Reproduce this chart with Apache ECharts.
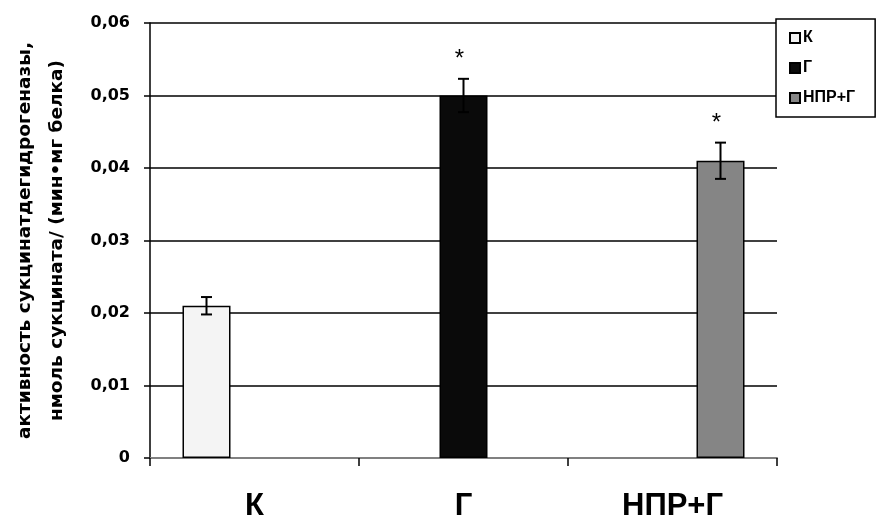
<!DOCTYPE html>
<html>
<head>
<meta charset="utf-8">
<script src="https://cdn.jsdelivr.net/npm/echarts@6/dist/echarts.min.js"></script>
<style>html,body{margin:0;padding:0;background:#fff;}#c{width:886px;height:530px;}</style>
</head>
<body>
<div id="c"></div>
<script>
// ---- data ----
const categories = ['К', 'Г', 'НПР+Г'];
const seriesNames = ['К', 'Г', 'НПР+Г'];
const means = [0.021, 0.050, 0.041];
const errors = [0.0012, 0.0023, 0.0025];
const marks = ['', '*', '*'];
const yMin = 0, yMax = 0.06, yStep = 0.01;
const yTitle = 'активность сукцинатдегидрогеназы,\nнмоль сукцината/ (мин•мг белка)';

// ---- styles ----
const FONT = '"Liberation Sans", Arial, sans-serif';
const FONT_W = '"DejaVu Sans", Verdana, sans-serif';
const fills = ['#f4f4f4', '#0a0a0a', '#858585'];
const borders = ['#000', '#000', '#000'];
const BAR_W = 48;

const chart = echarts.init(document.getElementById('c'), null, {renderer: 'canvas'});

const barSeries = seriesNames.map((name, i) => ({
  name: name,
  type: 'bar',
  barWidth: BAR_W,
  barGap: '0%',
  data: categories.map((c, j) => (j === i ? means[i] : '-')),
  itemStyle: {color: fills[i], borderColor: borders[i], borderWidth: 1.5},
  emphasis: {disabled: true},
  z: 3
}));

const errSeries = {
  type: 'custom',
  name: 'err',
  z: 10,
  silent: true,
  data: means.map((m, i) => [i, m, errors[i], marks[i]]),
  renderItem: function (params, api) {
    const i = api.value(0);
    const m = api.value(1);
    const e = api.value(2);
    const mark = marks[i];
    const off = (i - (seriesNames.length - 1) / 2) * BAR_W;
    const top = api.coord([i, m + e]);
    const bot = api.coord([i, m - e]);
    const x = top[0] + off;
    const cw = 5.5;
    const st = {stroke: '#000', lineWidth: 2};
    const children = [
      {type: 'line', shape: {x1: x, y1: top[1], x2: x, y2: bot[1]}, style: st},
      {type: 'line', shape: {x1: x - cw, y1: top[1], x2: x + cw, y2: top[1]}, style: st},
      {type: 'line', shape: {x1: x - cw, y1: bot[1], x2: x + cw, y2: bot[1]}, style: st}
    ];
    if (mark) {
      children.push({
        type: 'text',
        x: x - 4,
        y: top[1] - 19,
        style: {text: mark, fill: '#000', font: '24px ' + FONT, align: 'center', verticalAlign: 'middle'}
      });
    }
    return {type: 'group', children: children};
  }
};

chart.setOption({
  animation: false,
  backgroundColor: '#fff',
  grid: {left: 150, right: 109, top: 23, bottom: 72, containLabel: false, outerBoundsMode: 'none'},
  legend: {
    orient: 'vertical',
    left: 776,
    top: 19,
    data: seriesNames,
    padding: [10, 20, 10, 13],
    itemGap: 12,
    itemWidth: 10,
    itemHeight: 10,
    icon: 'rect',
    borderColor: '#000',
    borderWidth: 1.5,
    backgroundColor: '#fff',
    textStyle: {fontFamily: FONT, fontSize: 16, fontWeight: 'bold', color: '#000', lineHeight: 18, padding: [0,0,0,-2]},
    selectedMode: false
  },
  xAxis: {
    type: 'category',
    data: categories,
    axisLine: {lineStyle: {color: '#808080', width: 2}},
    axisTick: {show: true, length: 8, lineStyle: {color: '#000', width: 1.5}},
    axisLabel: {fontFamily: FONT, fontSize: 31, fontWeight: 'bold', color: '#000', margin: 33},
    splitLine: {show: false}
  },
  yAxis: {
    type: 'value',
    min: yMin, max: yMax, interval: yStep,
    name: yTitle,
    nameLocation: 'middle',
    nameRotate: 90,
    nameGap: 77,
    nameTextStyle: {fontFamily: FONT_W, fontSize: 18.5, fontWeight: 'bold', color: '#000', lineHeight: 32, align: 'center'},
    axisLine: {show: true, lineStyle: {color: '#000', width: 1.5}},
    axisTick: {show: true, length: 6, lineStyle: {color: '#000', width: 1.5}},
    axisLabel: {
      fontFamily: FONT_W, fontSize: 16, fontWeight: 'bold', color: '#000', margin: 20,
      formatter: v => (v === 0 ? '0' : v.toFixed(2).replace('.', ','))
    },
    splitLine: {show: true, lineStyle: {color: '#000', width: 1.5}}
  },
  series: barSeries.concat([errSeries])
});
</script>
</body>
</html>
